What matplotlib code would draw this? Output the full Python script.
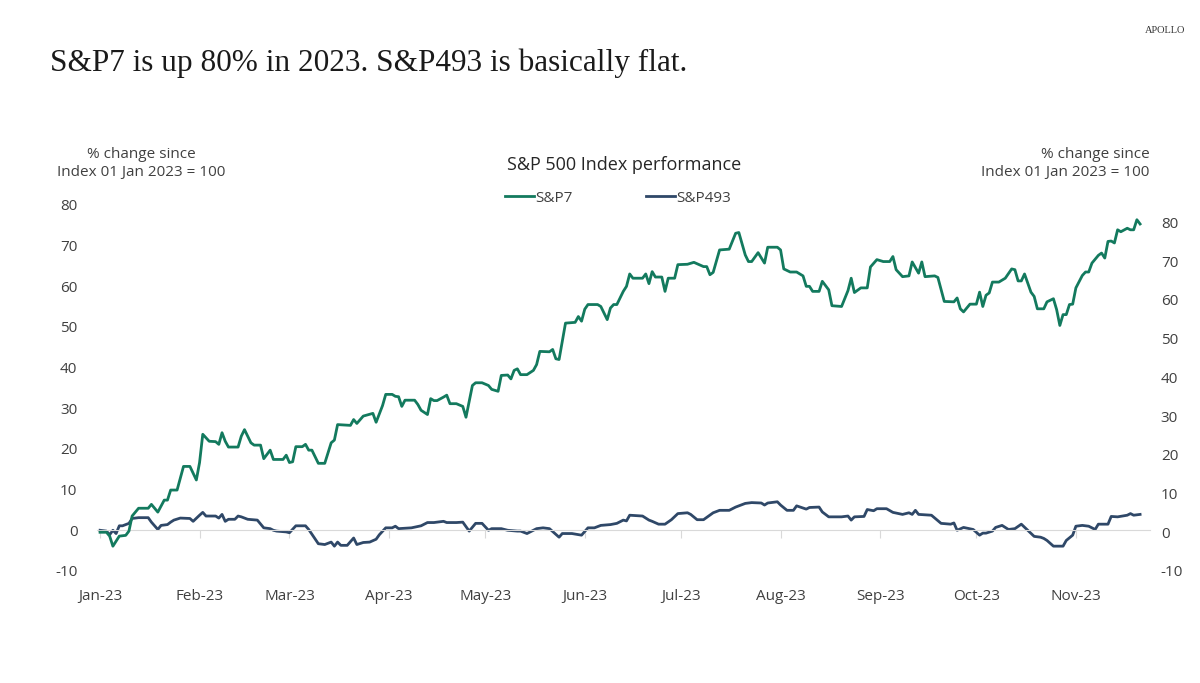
import matplotlib.pyplot as plt

plt.rcParams['axes.unicode_minus'] = False

# x = days since 01 Jan 2023, y = % change since 01 Jan 2023
sp7_days = [0, 2, 3, 4, 6, 8, 9, 10, 12, 15, 16, 18, 20, 21, 22, 24, 26, 28, 30, 31,
            32, 34, 36, 37, 38, 39, 40, 43, 44, 45, 47, 48, 50, 51, 53, 54, 57, 58, 59, 60,
            61, 63, 64, 65, 66, 68, 70, 72, 73, 74, 78, 79, 80, 82, 85, 86, 88, 89, 91, 92,
            93, 94, 95, 98, 99, 100, 102, 103, 104, 105, 107, 108, 109, 111, 113, 114, 116, 117, 119, 121,
            122, 124, 125, 127, 128, 129, 130, 131, 133, 135, 136, 137, 140, 141, 142, 143, 145, 148, 149, 150,
            151, 152, 155, 156, 158, 159, 160, 161, 163, 164, 165, 166, 169, 170, 171, 172, 173, 175, 176, 177,
            179, 180, 183, 185, 188, 189, 190, 191, 193, 196, 198, 199, 201, 202, 203, 205, 207, 208, 211, 212,
            213, 214, 215, 217, 219, 220, 221, 222, 224, 225, 227, 228, 231, 233, 234, 235, 237, 239, 240, 242,
            244, 246, 247, 248, 250, 252, 253, 255, 256, 257, 260, 261, 263, 266, 267, 268, 269, 271, 273, 274,
            275, 276, 277, 278, 280, 282, 284, 285, 286, 287, 288, 290, 291, 292, 294, 295, 297, 298, 299, 300,
            301, 302, 303, 304, 306, 307, 308, 309, 311, 312, 313, 314, 315, 316, 317, 318, 320, 321, 322, 323,
            324]
sp7_vals = [0.0, 0.0, -1.0, -3.6, -1.0, -0.8, 0.3, 4.2, 6.2, 6.2, 7.2, 5.2, 8.3, 8.3, 10.9, 10.9, 17.0, 17.0, 13.5, 18.0,
            25.3, 23.5, 23.4, 22.7, 25.7, 23.5, 22.0, 22.0, 24.8, 26.5, 23.1, 22.5, 22.5, 19.0, 21.2, 18.8, 18.8, 19.9, 18.0, 18.2,
            22.1, 22.1, 22.7, 21.2, 21.2, 17.8, 17.8, 23.1, 23.8, 27.8, 27.6, 29.1, 28.1, 30.0, 30.7, 28.4, 32.7, 35.6, 35.6, 35.1,
            35.0, 32.5, 34.1, 34.1, 33.0, 31.5, 30.4, 34.5, 34.0, 34.0, 34.9, 35.4, 33.2, 33.2, 32.5, 29.7, 37.9, 38.6, 38.6, 37.9,
            36.9, 36.4, 40.5, 40.6, 39.6, 41.8, 42.2, 40.7, 40.7, 41.8, 43.3, 46.7, 46.6, 47.2, 44.8, 44.6, 54.0, 54.2, 55.7, 54.5,
            57.6, 58.8, 58.8, 58.3, 54.9, 57.9, 58.8, 58.8, 62.2, 63.5, 66.7, 65.6, 65.6, 66.7, 64.2, 67.3, 65.9, 65.9, 62.2, 65.6,
            65.6, 69.1, 69.2, 69.7, 68.6, 68.6, 66.5, 67.1, 72.9, 73.1, 77.2, 77.4, 71.6, 69.9, 69.9, 72.2, 69.5, 73.6, 73.6, 72.9,
            68.0, 67.6, 67.2, 67.2, 66.2, 63.5, 63.5, 62.2, 62.2, 64.8, 62.6, 58.5, 58.3, 62.4, 65.6, 61.9, 63.1, 63.1, 68.5, 70.4,
            69.9, 69.9, 71.2, 67.8, 66.0, 66.2, 69.8, 66.9, 69.8, 66.0, 66.2, 65.8, 59.6, 59.5, 60.5, 57.7, 56.9, 58.9, 58.9, 62.0,
            58.3, 61.2, 61.8, 64.6, 64.6, 65.6, 68.0, 67.8, 64.9, 64.9, 66.7, 62.0, 60.9, 57.7, 57.7, 59.5, 60.3, 57.5, 53.4, 56.2,
            56.2, 58.8, 58.9, 63.1, 66.3, 67.2, 67.2, 69.5, 71.5, 72.1, 70.8, 75.1, 75.2, 74.7, 78.1, 77.6, 78.5, 78.1, 78.1, 80.7,
            79.6]

sp493_days = [0, 2, 3, 4, 5, 6, 7, 9, 10, 12, 15, 16, 18, 19, 21, 22, 23, 25, 28, 29,
              31, 32, 33, 36, 37, 38, 39, 40, 42, 43, 44, 46, 49, 51, 53, 54, 55, 58, 59, 61,
              64, 65, 68, 70, 72, 73, 74, 75, 77, 79, 80, 82, 84, 86, 87, 89, 91, 92, 93, 97,
              100, 102, 104, 107, 108, 111, 113, 115, 117, 119, 121, 122, 125, 127, 130, 131, 133, 136, 138, 140,
              143, 144, 147, 150, 152, 154, 156, 159, 161, 163, 164, 165, 169, 171, 172, 174, 176, 178, 180, 183,
              184, 186, 188, 191, 193, 196, 198, 201, 203, 206, 207, 208, 211, 212, 214, 216, 217, 220, 221, 224,
              225, 227, 231, 233, 234, 235, 238, 239, 241, 242, 245, 247, 250, 252, 253, 254, 255, 259, 262, 265,
              266, 267, 269, 272, 274, 275, 276, 278, 279, 281, 283, 285, 287, 289, 291, 293, 294, 295, 297, 300,
              301, 303, 304, 306, 308, 310, 311, 314, 315, 317, 320, 321, 322, 324]
sp493_vals = [0.0, -0.2, -1.1, 0.0, -0.8, 1.1, 1.1, 1.7, 2.9, 3.1, 3.1, 2.0, 0.2, 1.2, 1.4, 2.0, 2.5, 3.0, 2.9, 2.2,
              3.7, 4.4, 3.5, 3.5, 3.0, 3.9, 2.2, 2.7, 2.7, 3.5, 3.3, 2.7, 2.5, 0.6, 0.4, 0.0, -0.2, -0.4, -0.6, 1.1,
              1.1, 0.2, -3.3, -3.5, -2.9, -3.9, -2.9, -3.7, -3.7, -1.9, -3.5, -3.0, -2.9, -2.2, -1.1, 0.6, 0.6, 1.0, 0.4, 0.6,
              1.1, 1.9, 1.9, 2.2, 1.9, 1.9, 2.0, -0.2, 1.7, 1.7, 0.0, 0.4, 0.4, 0.0, -0.2, -0.2, -0.8, 0.4, 0.6, 0.4,
              -1.7, -0.8, -0.8, -1.2, 0.6, 0.6, 1.2, 1.4, 1.7, 2.5, 2.3, 3.7, 3.5, 2.5, 2.2, 1.5, 1.5, 2.6, 4.1, 4.3,
              3.9, 2.6, 2.6, 4.3, 4.9, 4.9, 5.7, 6.6, 6.8, 6.7, 6.2, 6.7, 7.0, 6.2, 4.9, 4.9, 6.0, 5.2, 5.6, 5.7,
              4.5, 3.3, 3.3, 3.5, 2.5, 3.3, 3.4, 5.1, 4.8, 5.3, 5.3, 4.4, 3.9, 4.3, 3.9, 4.9, 3.9, 3.7, 1.7, 1.5,
              1.8, 0.0, 0.7, 0.2, -1.2, -0.7, -0.7, -0.2, 0.7, 1.2, 0.2, 0.4, 1.5, 0.0, -1.5, -1.7, -2.0, -2.5, -3.9, -3.9,
              -2.5, -1.2, 1.0, 1.2, 1.0, 0.2, 1.5, 1.5, 3.4, 3.3, 3.7, 4.1, 3.7, 3.9]

month_days = [0, 31, 59, 90, 120, 151, 181, 212, 243, 273, 304]
month_labels = ['Jan-23', 'Feb-23', 'Mar-23', 'Apr-23', 'May-23', 'Jun-23',
                'Jul-23', 'Aug-23', 'Sep-23', 'Oct-23', 'Nov-23']
y_ticks = list(range(-10, 90, 10))

green = '#137a5e'
navy = '#2f4868'
txt = '#404040'
sans = 'Open Sans'

fig = plt.figure(figsize=(12, 6.83), dpi=100)
ax = fig.add_axes([0.0807, 0.164, 0.8774, 0.5364])
ax2 = ax.twinx()

l493, = ax.plot(sp493_days, sp493_vals, color=navy, lw=2.0, label='S&P493')
l7, = ax2.plot(sp7_days, sp7_vals, color=green, lw=2.0, label='S&P7')

ax.set_xlim(-1, 327)
ax.set_ylim(-10, 80)
ax2.set_ylim(-10, 84.6)
ax.set_yticks(y_ticks)
ax2.set_yticks(y_ticks)

for a in (ax, ax2):
    for s in ('top', 'left', 'right'):
        a.spines[s].set_visible(False)
ax2.spines['bottom'].set_visible(False)
ax.spines['bottom'].set_position(('data', 0))
ax.spines['bottom'].set_color('#d9d9d9')

ax.set_xticks(month_days)
ax.tick_params(axis='x', length=6, color='#d9d9d9', labelbottom=False)
ax.tick_params(axis='y', length=0, pad=14, labelsize=11, labelcolor=txt)
ax2.tick_params(axis='y', length=0, pad=8, labelsize=11, labelcolor=txt)
for lab in ax.get_yticklabels() + ax2.get_yticklabels():
    lab.set_fontfamily(sans)

sec = ax.secondary_xaxis('bottom')
sec.set_xticks(month_days, labels=month_labels)
sec.tick_params(length=0, pad=13, labelsize=11, labelcolor=txt)
sec.spines['bottom'].set_visible(False)
for lab in sec.get_xticklabels():
    lab.set_fontfamily(sans)

fig.text(0.042, 0.908, 'S&P7 is up 80% in 2023. S&P493 is basically flat.',
         family='Liberation Serif', fontsize=22.5, color='#1a1a1a', va='center')
fig.text(0.988, 0.955, 'APOLLO', family='Liberation Serif', fontsize=7.5,
         color='#333333', ha='right', va='center')
fig.text(0.52, 0.758, 'S&P 500 Index performance', family=sans, fontsize=13,
         color='#262626', ha='center', va='center')
fig.text(0.1175, 0.761, '% change since\nIndex 01 Jan 2023 = 100', family=sans,
         fontsize=11, color=txt, ha='center', va='center', linespacing=1.3)
fig.text(0.958, 0.761, '% change since\nIndex 01 Jan 2023 = 100', family=sans,
         fontsize=11, color=txt, ha='right', va='center', linespacing=1.3,
         multialignment='right')

fig.legend([l7, l493], ['S&P7', 'S&P493'], loc='center', bbox_to_anchor=(0.515, 0.710),
           ncol=2, frameon=False, handlelength=1.9, handletextpad=0.1,
           columnspacing=4.8, prop={'family': sans, 'size': 11}, labelcolor=txt)

fig.savefig('out.png', dpi=100, facecolor='white')
